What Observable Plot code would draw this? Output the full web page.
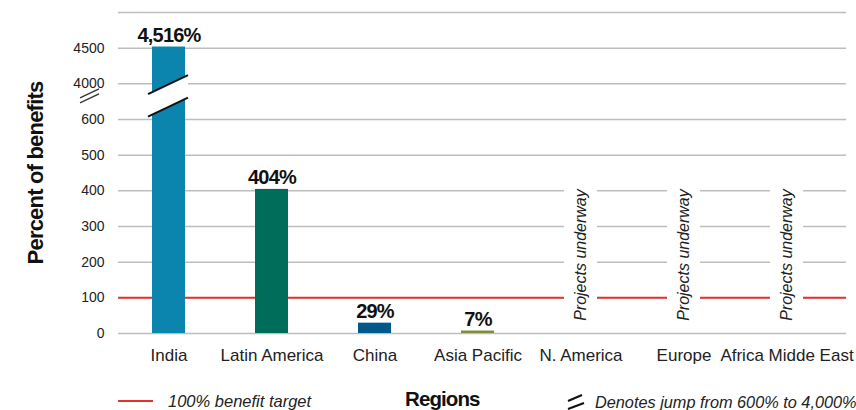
<!DOCTYPE html>
<html><head><meta charset="utf-8">
<script src="https://cdn.jsdelivr.net/npm/d3@7"></script>
<script src="https://cdn.jsdelivr.net/npm/@observablehq/plot@0.6"></script>
<style>
body{margin:0;background:#fff;width:856px;height:410px;overflow:hidden;font-family:"Liberation Sans",Arial,Helvetica,sans-serif;color:#222;}
#legend{position:relative;width:856px;height:35px;overflow:hidden;}
#legend .it{position:absolute;font-style:italic;line-height:1;white-space:nowrap;color:#222;}
#legend .bold{position:absolute;font-weight:bold;font-size:20.5px;line-height:1;letter-spacing:-0.9px;white-space:nowrap;color:#111;}
#chart g[font-weight="bold"] text{letter-spacing:-0.8px;}
</style></head><body>
<div id="chart"></div>
<div id="legend"></div>
<script>
// ---- data ----
const regions = ["India", "Latin America", "China", "Asia Pacific", "N. America", "Europe", "Africa Midde East"];
const benefits = [4516, 404, 29, 7, null, null, null];
const barColors = ["#0b84ae", "#006d5b", "#00578a", "#808c3c", null, null, null];
const notes = [null, null, null, null, "Projects underway", "Projects underway", "Projects underway"];
const yTickValues = [0, 100, 200, 300, 400, 500, 600, 4000, 4500];
const yTickLabels = ["0", "100", "200", "300", "400", "500", "600", "4000", "4500"];
const gridValues = [0, 100, 200, 300, 400, 500, 600, 4000, 4500, 5000];
const target = 100;
const breakLow = 600, breakHigh = 4000;
const noteLevel = 220;      // percent level where the note is centred
const noteGap = [20, 408];  // percent range cleared behind the note

// broken axis: 0–600 in steps of 100, then 4000+ in steps of 500
const pos = v => v <= breakLow ? v / 100 : (breakLow / 100 + 1) + (v - breakHigh) / 500;
const breakLevel = (pos(breakLow) + pos(breakHigh)) / 2 + 0.15;

const rows = regions.map((r, i) => ({region: r, value: benefits[i], color: barColors[i], note: notes[i]}));
const bars = rows.filter(d => d.value != null);
const noted = rows.filter(d => d.note);
const labelByPos = new Map(yTickValues.map((v, i) => [pos(v), yTickLabels[i]]));
const fmt = d3.format(",");

const plot = Plot.plot({
  width: 856,
  height: 375,
  marginLeft: 118,
  marginRight: 10,
  marginTop: 12,
  marginBottom: 42,
  style: {fontFamily: "'Liberation Sans', Arial, sans-serif", color: "#222", background: "#fff"},
  x: {domain: regions, range: [117, 838], paddingInner: 0.68, paddingOuter: 0.34},
  y: {domain: [0, 9]},
  color: {type: "identity"},
  marks: [
    Plot.ruleY(gridValues.map(pos), {stroke: "#bdbdbd", strokeWidth: 1.5}),
    Plot.ruleY([pos(target)], {stroke: "#e2332e", strokeWidth: 2}),
    Plot.barY(noted, {x: "region", y1: () => pos(noteGap[0]), y2: () => pos(noteGap[1]), fill: "white"}),
    Plot.barY(bars, {x: "region", y1: 0, y2: d => pos(d.value), fill: "color"}),
    Plot.text(bars, {x: "region", y: d => pos(d.value), text: d => fmt(d.value) + "%", dy: -5, lineAnchor: "bottom",
      fontWeight: "bold", fontSize: 20, fill: "#111"}),
    Plot.text(noted, {x: "region", y: () => pos(noteLevel), text: "note", rotate: -90, fontStyle: "italic", fontSize: 16, fill: "#222"}),
    Plot.axisY({ticks: yTickValues.map(pos), tickFormat: d => labelByPos.get(d), tickSize: 0, tickPadding: 14, fontSize: 14, label: null}),
    Plot.axisX({tickSize: 0, tickPadding: 15, fontSize: 17, label: null}),
    Plot.text(["Percent of benefits"], {frameAnchor: "left", dx: -83, rotate: -90, textAnchor: "middle", lineAnchor: "middle",
      fontSize: 22, fontWeight: "bold", fill: "#111"})
  ]
});
document.getElementById("chart").appendChild(plot);

// axis-break decoration, positioned from the plot's own scales
const svgEl = plot.tagName.toLowerCase() === "svg" ? plot : plot.querySelector("svg");
const svg = d3.select(svgEl);
const xs = plot.scale("x"), ys = plot.scale("y");
const yApply = v => ys.apply ? ys.apply(v) : d3.scaleLinear(ys.domain, ys.range)(v);
const x0 = xs.apply(bars[0].region), bw = xs.bandwidth;
const yc = yApply(breakLevel);
const L = x0 - 4, R = x0 + bw + 3;
const g = svg.append("g");
g.append("path").attr("d", `M${L},${yc - 1.75}L${R},${yc - 20.75}L${R},${yc + 1.75}L${L},${yc + 20.75}Z`).attr("fill", "white");
g.append("line").attr("x1", L).attr("y1", yc - 1.75).attr("x2", R).attr("y2", yc - 20.75).attr("stroke", "#111").attr("stroke-width", 2);
g.append("line").attr("x1", L).attr("y1", yc + 20.75).attr("x2", R).attr("y2", yc + 1.75).attr("stroke", "#111").attr("stroke-width", 2);
const ax = 118;
g.append("line").attr("x1", ax - 38).attr("y1", yc + 2).attr("x2", ax - 19).attr("y2", yc - 7).attr("stroke", "#333").attr("stroke-width", 1.3);
g.append("line").attr("x1", ax - 38).attr("y1", yc + 7).attr("x2", ax - 19).attr("y2", yc - 2).attr("stroke", "#333").attr("stroke-width", 1.3);

// legend row below the chart
const leg = d3.select("#legend");
leg.append("div").style("position", "absolute").style("left", "118px").style("top", "24.7px").style("width", "35px").style("height", "2px").style("background", "#e2332e");
leg.append("div").attr("class", "it").style("font-size", "16.5px").style("left", "168px").style("top", "17.7px").text("100% benefit target");
leg.append("div").attr("class", "bold").style("left", "405px").style("top", "14.3px").text("Regions");
const sym = leg.append("svg").style("position", "absolute").style("left", "566px").style("top", "16px").attr("width", 22).attr("height", 19);
sym.append("line").attr("x1", 2).attr("y1", 10).attr("x2", 16).attr("y2", 4).attr("stroke", "#111").attr("stroke-width", 2);
sym.append("line").attr("x1", 2).attr("y1", 18).attr("x2", 18).attr("y2", 12).attr("stroke", "#111").attr("stroke-width", 2);
leg.append("div").attr("class", "it").style("font-size", "16.3px").style("left", "595px").style("top", "19px").text("Denotes jump from 600% to 4,000%");
</script>
</body></html>
